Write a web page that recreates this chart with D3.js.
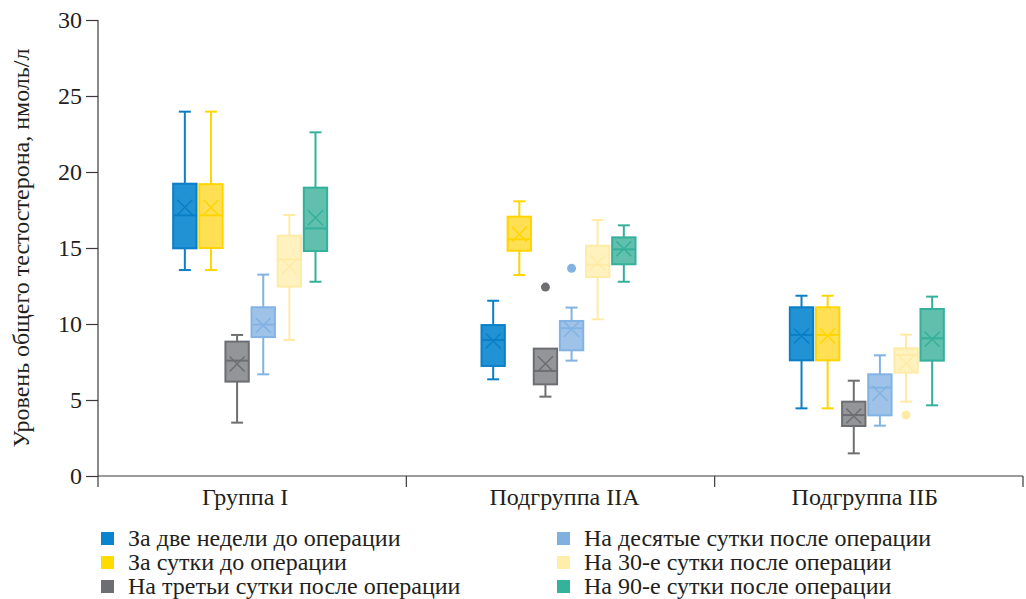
<!DOCTYPE html>
<html><head><meta charset="utf-8">
<script src="https://cdn.jsdelivr.net/npm/d3@7"></script>
<style>body{margin:0;background:#fff}svg{display:block}text{font-family:"Liberation Serif","DejaVu Serif",serif;fill:#231f20}</style>
</head><body><svg id="c" width="1026" height="599"></svg>
<script>
const groups = ["Группа I", "Подгруппа IIА", "Подгруппа IIБ"];
const seriesNames = [
  "За две недели до операции",
  "За сутки до операции",
  "На третьи сутки после операции",
  "На десятые сутки после операции",
  "На 30-е сутки после операции",
  "На 90-е сутки после операции"
];
const yTicks = [0, 5, 10, 15, 20, 25, 30];
// per series, per group: [whiskerLow, q1, median, q3, whiskerHigh, mean]
const twoWeeksBefore = [[13.55, 14.98, 17.15, 19.23, 23.97, 17.68], [6.36, 7.24, 8.95, 9.93, 11.53, 8.88], [4.45, 7.61, 9.28, 11.1, 11.86, 9.21]];
const dayBefore      = [[13.55, 15.0, 17.15, 19.2, 23.97, 17.68], [13.22, 14.82, 15.57, 17.06, 18.07, 15.9], [4.45, 7.61, 9.28, 11.1, 11.86, 9.21]];
const day3After      = [[3.51, 6.21, 7.59, 8.84, 9.28, 7.37], [5.22, 6.03, 6.91, 8.38, 8.38, 7.39], [1.49, 3.29, 4.01, 4.89, 6.27, 3.95]];
const day10After     = [[6.69, 9.14, 9.96, 11.1, 13.25, 9.91], [7.59, 8.27, 9.72, 10.2, 11.08, 9.65], [3.31, 3.99, 5.81, 6.69, 7.94, 5.44]];
const day30After     = [[8.95, 12.46, 14.25, 15.81, 17.17, 13.77], [10.31, 13.09, 13.9, 15.15, 16.84, 14.03], [4.89, 6.8, 7.96, 8.4, 9.3, 7.41]];
const day90After     = [[12.78, 14.8, 16.29, 18.97, 22.61, 16.99], [12.78, 13.93, 14.91, 15.7, 16.49, 14.95], [4.65, 7.59, 9.06, 10.99, 11.8, 9.0]];
// outliers: [seriesIndex, groupIndex, value]
const outliers = [[2, 1, 12.43], [3, 1, 13.66], [4, 2, 4.01]];

const allSeries = [twoWeeksBefore, dayBefore, day3After, day10After, day30After, day90After];
const strokeColors = ["#0a7fc6", "#ffd500", "#6d6e71", "#82b3e2", "#ffeba6", "#35b09a"];
const fillColors   = ["#2192d4", "#ffe055", "#939598", "#9fc3e8", "#fff2bf", "#60bfad"];
const legendColors = ["#0a84cc", "#ffdc00", "#6d6e71", "#7fb0e0", "#ffeeaa", "#35b29a"];
const FS = "24px";

const svg = d3.select("#c");
const y = d3.scaleLinear().domain([0, 30]).range([476, 20]);
const x = d3.scaleBand().domain(groups).range([98, 1023]).paddingInner(0).paddingOuter(0);
const xs = d3.scaleBand().domain(d3.range(6)).range([-78, 78]).paddingInner(0.03);
const axisColor = "#3a3a3a";

// Y axis
const yAxis = svg.append("g").attr("transform", "translate(98,0)")
  .call(d3.axisLeft(y).tickValues(yTicks).tickSize(12).tickPadding(4));
yAxis.select(".domain").remove();
yAxis.selectAll("line").attr("stroke", axisColor).attr("stroke-width", 1.2);
yAxis.selectAll("text").style("font-size", FS).attr("fill", "#231f20");
svg.append("line").attr("x1", 98).attr("x2", 98).attr("y1", y(30)).attr("y2", 487)
  .attr("stroke", axisColor).attr("stroke-width", 1.2);

// X axis
svg.append("line").attr("x1", 98).attr("x2", 1023).attr("y1", y(0)).attr("y2", y(0))
  .attr("stroke", axisColor).attr("stroke-width", 1.2);
const bounds = groups.map(g => x(g)).concat([x(groups[2]) + x.bandwidth()]);
svg.selectAll(".xt").data(bounds.slice(1)).join("line")
  .attr("x1", d => d).attr("x2", d => d).attr("y1", y(0)).attr("y2", 487)
  .attr("stroke", axisColor).attr("stroke-width", 1.2);
const labelShift = [-7, 4, -4];
svg.selectAll(".xl").data(groups).join("text")
  .attr("x", (d, i) => x(d) + x.bandwidth() / 2 + labelShift[i]).attr("y", 505)
  .attr("text-anchor", "middle").style("font-size", FS).text(d => d);

// Y title
svg.append("text").attr("transform", "translate(29,248) rotate(-90)")
  .attr("text-anchor", "middle").style("font-size", FS)
  .text("Уровень общего тестостерона, нмоль/л");

// Boxes
const bw = xs.bandwidth();
allSeries.forEach((ser, si) => {
  ser.forEach((s, gi) => {
    const [lo, q1, med, q3, hi, mean] = s;
    const cx = x(groups[gi]) + x.bandwidth() / 2 + xs(si) + bw / 2 - 2;
    const g = svg.append("g");
    const sc = strokeColors[si];
    g.append("line").attr("x1", cx).attr("x2", cx).attr("y1", y(hi)).attr("y2", y(q3)).attr("stroke", sc).attr("stroke-width", 2);
    g.append("line").attr("x1", cx).attr("x2", cx).attr("y1", y(q1)).attr("y2", y(lo)).attr("stroke", sc).attr("stroke-width", 2);
    if (hi > q3) g.append("line").attr("x1", cx - 6).attr("x2", cx + 6).attr("y1", y(hi)).attr("y2", y(hi)).attr("stroke", sc).attr("stroke-width", 2);
    g.append("line").attr("x1", cx - 6).attr("x2", cx + 6).attr("y1", y(lo)).attr("y2", y(lo)).attr("stroke", sc).attr("stroke-width", 2);
    g.append("rect").attr("x", cx - bw / 2 + 1).attr("width", bw - 2)
      .attr("y", y(q3)).attr("height", y(q1) - y(q3))
      .attr("fill", fillColors[si]).attr("stroke", sc).attr("stroke-width", 2);
    g.append("line").attr("x1", cx - bw / 2 + 1).attr("x2", cx + bw / 2 - 1).attr("y1", y(med)).attr("y2", y(med)).attr("stroke", sc).attr("stroke-width", 2);
    const m = 7.5, my = y(mean);
    g.append("path").attr("d", `M${cx - m},${my - m}L${cx + m},${my + m}M${cx - m},${my + m}L${cx + m},${my - m}`)
      .attr("stroke", sc).attr("stroke-width", 1.5).attr("fill", "none");
  });
});
svg.selectAll(".out").data(outliers).join("circle")
  .attr("cx", d => x(groups[d[1]]) + x.bandwidth() / 2 + xs(d[0]) + bw / 2 - 2)
  .attr("cy", d => y(d[2])).attr("r", 4.5)
  .attr("fill", d => d[0] === 2 ? "#6d6e71" : strokeColors[d[0]]);

// Legend
const legPos = [[101, 538], [101, 562], [101, 586], [557, 538], [557, 562], [557, 586]];
const leg = svg.selectAll(".leg").data(seriesNames).join("g")
  .attr("transform", (d, i) => `translate(${legPos[i][0]},${legPos[i][1]})`);
leg.append("rect").attr("x", 0).attr("y", -6).attr("width", 13).attr("height", 13)
  .attr("fill", (d, i) => legendColors[i]);
leg.append("text").attr("x", 27).attr("y", 8).style("font-size", FS).text(d => d);
</script></body></html>
